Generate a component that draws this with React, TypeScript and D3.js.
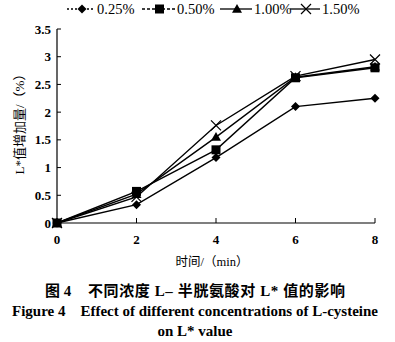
import React from "react";
import * as d3 from "d3";

const times = [0, 2, 4, 6, 8];
const seriesNames = ["0.25%", "0.50%", "1.00%", "1.50%"];
const v025 = [0, 0.33, 1.18, 2.1, 2.25];
const v050 = [0, 0.57, 1.32, 2.62, 2.8];
const v100 = [0, 0.52, 1.55, 2.63, 2.82];
const v150 = [0, 0.47, 1.76, 2.65, 2.95];
const yTicks = [0, 0.5, 1, 1.5, 2, 2.5, 3, 3.5];
const xTicks = [0, 2, 4, 6, 8];
const markers = ["diamond", "square", "triangle", "cross"];
const dashes = ["2,2", "3,2", null, null];

const W = 395, H = 342;
const serif = "'Liberation Serif', 'Noto Sans CJK SC', serif";

function Marker({ type, x, y }: { type: string; x: number; y: number }) {
  if (type === "diamond") {
    const s = 4.5;
    return <path d={`M${x},${y - s}L${x + s},${y}L${x},${y + s}L${x - s},${y}Z`} fill="#000" />;
  }
  if (type === "square") {
    const s = 4.5;
    return <rect x={x - s} y={y - s} width={2 * s} height={2 * s} fill="#000" />;
  }
  if (type === "triangle") {
    const s = 5;
    return <path d={`M${x},${y - s}L${x + s},${y + s * 0.75}L${x - s},${y + s * 0.75}Z`} fill="#000" />;
  }
  const s = 5;
  return (
    <path d={`M${x - s},${y - s}L${x + s},${y + s}M${x - s},${y + s}L${x + s},${y - s}`} stroke="#000" strokeWidth={1.2} />
  );
}

export default function App() {
  const x = d3.scaleLinear().domain([0, 8]).range([57, 375]);
  const y = d3.scaleLinear().domain([0, 3.5]).range([223, 29]);
  const data = [v025, v050, v100, v150];
  const line = d3
    .line<number>()
    .x((_, i) => x(times[i]))
    .y((d) => y(d));

  const legendX = [67, 142, 220, 290];
  const legendW = [28, 33, 32, 30];

  return (
    <svg width={W} height={H} style={{ position: "absolute", left: 0, top: 0, background: "#fff" }}>
      {/* axes */}
      <line x1={x(0)} x2={x(0)} y1={y(3.5)} y2={y(0)} stroke="#000" strokeWidth={1.2} />
      <line x1={x(0)} x2={x(8)} y1={y(0)} y2={y(0)} stroke="#000" strokeWidth={1.2} />
      {yTicks.map((t) => (
        <g key={"y" + t}>
          <line x1={x(0)} x2={x(0) + 4} y1={y(t)} y2={y(t)} stroke="#000" strokeWidth={1} />
          <text x={x(0) - 6} y={y(t)} dy="0.35em" textAnchor="end" fontFamily={serif} fontSize={13} fontWeight="bold">
            {t}
          </text>
        </g>
      ))}
      {xTicks.map((t) => (
        <g key={"x" + t}>
          <line x1={x(t)} x2={x(t)} y1={y(0)} y2={y(0) - 5} stroke="#000" strokeWidth={1} />
          <text x={x(t)} y={y(0) + 21} textAnchor="middle" fontFamily={serif} fontSize={13} fontWeight="bold">
            {t}
          </text>
        </g>
      ))}
      <text x={212} y={266} textAnchor="middle" fontFamily={serif} fontSize={12.5}>
        时间/（min）
      </text>
      <text
        transform={`translate(24,121) rotate(-90)`}
        textAnchor="middle"
        fontFamily={serif}
        fontSize={13}
      >
        L*值增加量/（%）
      </text>

      {/* lines */}
      {data.map((d, i) => (
        <path key={"l" + i} d={line(d) || ""} fill="none" stroke="#000" strokeWidth={1.4} />
      ))}
      {data.map((d, i) =>
        d.map((v, j) => <Marker key={`m${i}-${j}`} type={markers[i]} x={x(times[j])} y={y(v)} />)
      )}

      {/* legend */}
      {seriesNames.map((n, i) => {
        const lx = legendX[i];
        const lw = legendW[i];
        return (
          <g key={"lg" + i}>
            <line
              x1={lx}
              x2={lx + lw}
              y1={9}
              y2={9}
              stroke="#000"
              strokeWidth={1.3}
              strokeDasharray={dashes[i] || undefined}
            />
            <Marker type={markers[i]} x={lx + lw / 2 + 1} y={9} />
            <text x={lx + lw + 2} y={14} fontFamily={serif} fontSize={14.5}>
              {n}
            </text>
          </g>
        );
      })}

      {/* caption */}
      <text y={296} fontFamily={serif} fontSize={15} fontWeight="bold">
        <tspan x={45}>图 4</tspan>
        <tspan x={88} textLength={257} lengthAdjust="spacing">
          不同浓度 L– 半胱氨酸对 L* 值的影响
        </tspan>
      </text>
      <text x={195} y={316} textAnchor="middle" fontFamily={serif} fontSize={15} fontWeight="bold">
        Figure 4{"\u00a0\u00a0\u00a0\u00a0"}Effect of different concentrations of L-cysteine
      </text>
      <text x={195} y={336} textAnchor="middle" fontFamily={serif} fontSize={15} fontWeight="bold">
        on L* value
      </text>
    </svg>
  );
}
